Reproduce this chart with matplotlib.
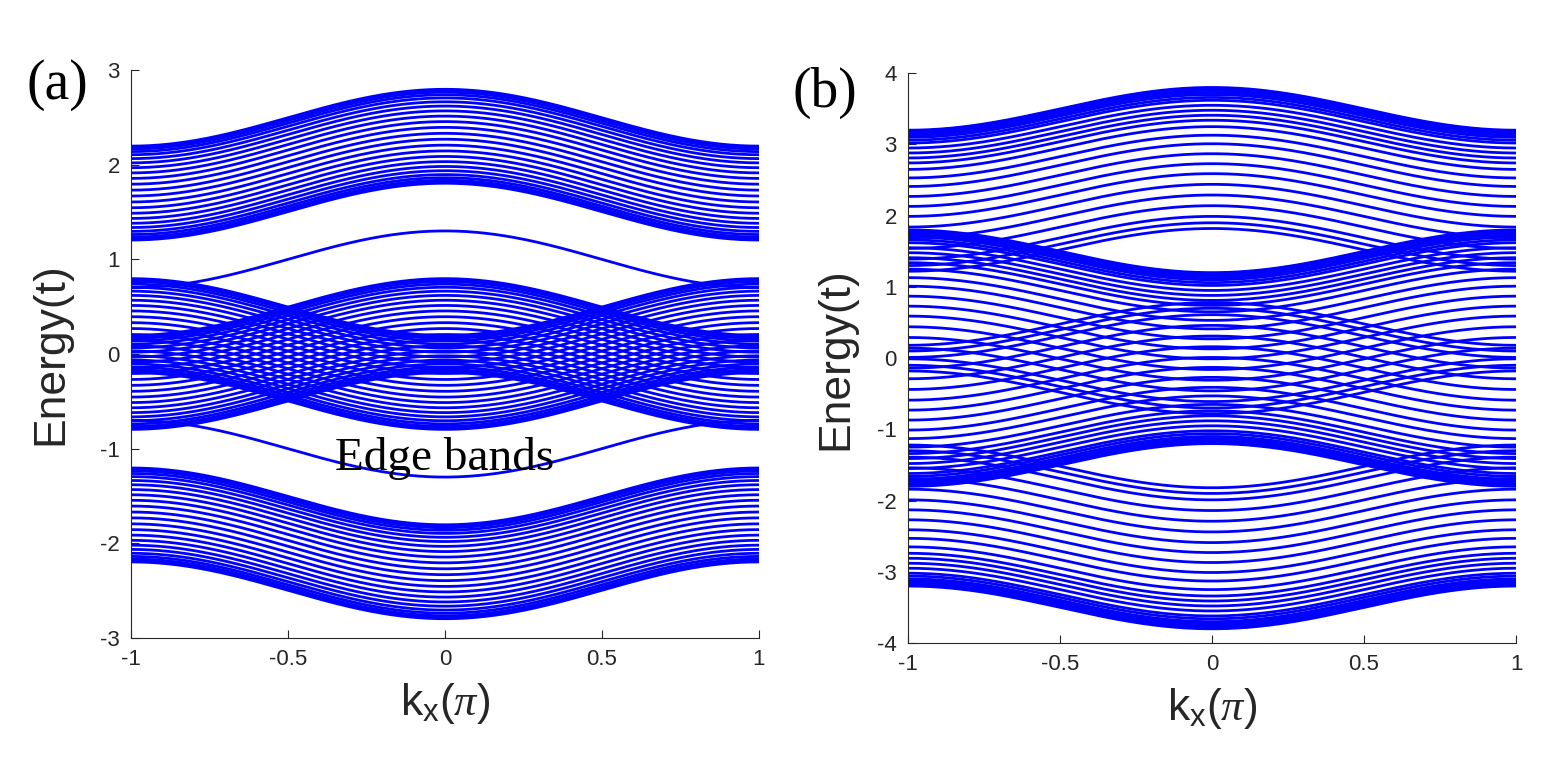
import matplotlib.pyplot as plt
import numpy as np

plt.rcParams['font.family'] = ['Liberation Sans', 'DejaVu Sans']
plt.rcParams['mathtext.fontset'] = 'custom'
plt.rcParams['mathtext.rm'] = 'Liberation Sans'
plt.rcParams['mathtext.it'] = 'Liberation Serif:italic'
plt.rcParams['axes.unicode_minus'] = False

# band centres (E at k=0 is centre + amp for "up" bands, centre - amp for "down" bands)
amp = 0.3

# panel (a)
a_upper = [2.496, 2.484, 2.465, 2.438, 2.405, 2.364, 2.319, 2.268, 2.213, 2.155, 2.094, 2.031,
           1.969, 1.906, 1.845, 1.787, 1.732, 1.681, 1.636, 1.595, 1.562, 1.535, 1.516, 1.504]
a_mid = [0.496, 0.484, 0.465, 0.438, 0.405, 0.364, 0.319, 0.268, 0.213, 0.155, 0.094, 0.031,
         -0.031, -0.094, -0.155, -0.213, -0.268, -0.319, -0.364, -0.405, -0.438, -0.465, -0.484, -0.496]
a_lower = [-1.504, -1.516, -1.535, -1.562, -1.595, -1.636, -1.681, -1.732, -1.787, -1.845, -1.906, -1.969,
           -2.031, -2.094, -2.155, -2.213, -2.268, -2.319, -2.364, -2.405, -2.438, -2.465, -2.484, -2.496]
a_edge_up = [1.0]
a_edge_down = [-1.0]

# panel (b)
b_upper = [3.50, 3.49, 3.48, 3.46, 3.43, 3.40, 3.36, 3.32, 3.25, 3.18, 3.11, 3.04,
           2.95, 2.83, 2.71, 2.57, 2.43, 2.29, 2.14, 1.99, 1.84, 1.69, 1.60, 1.52]
b_mid_down = [1.50, 1.49, 1.48, 1.46, 1.43, 1.40, 1.36, 1.32, 1.25, 1.18, 1.11, 1.04,
              0.95, 0.83, 0.71, 0.57, 0.43, 0.29, 0.14, -0.01, -0.16, -0.31, -0.40, -0.48]
b_mid_up = [-1.50, -1.49, -1.48, -1.46, -1.43, -1.40, -1.36, -1.32, -1.25, -1.18, -1.11, -1.04,
            -0.95, -0.83, -0.71, -0.57, -0.43, -0.29, -0.14, 0.01, 0.16, 0.31, 0.40, 0.48]
b_lower = [-3.50, -3.49, -3.48, -3.46, -3.43, -3.40, -3.36, -3.32, -3.25, -3.18, -3.11, -3.04,
           -2.95, -2.83, -2.71, -2.57, -2.43, -2.29, -2.14, -1.99, -1.84, -1.69, -1.60, -1.52]

xticks = [-1, -0.5, 0, 0.5, 1]
xticklabels = ['-1', '-0.5', '0', '0.5', '1']

k = np.linspace(-1, 1, 401)
blue = '#0000ff'
grey = '#262626'


def bands(ax, centres, sign):
    for c in centres:
        ax.plot(k, c + sign * amp * np.cos(np.pi * k), color=blue, lw=2.0)


def style(ax, ylim, ly):
    ax.set_xlim(-1, 1)
    ax.set_ylim(*ylim)
    ax.set_xticks(xticks)
    ax.set_xticklabels(xticklabels)
    ax.set_yticks(range(ylim[0], ylim[1] + 1))
    for s in ['top', 'right']:
        ax.spines[s].set_visible(False)
    for s in ['left', 'bottom']:
        ax.spines[s].set_color(grey)
        ax.spines[s].set_linewidth(0.8)
    ax.tick_params(direction='in', length=6, width=0.8, colors=grey, labelsize=16, pad=8)
    ax.set_xlabel(r'k$_{\mathrm{x}}$($\pi$)', fontsize=32, color=grey, labelpad=8)
    ax.set_ylabel('Energy(t)', fontsize=32, color=grey)
    ax.yaxis.set_label_coords(ly, 0.5)


fig = plt.figure(figsize=(15.5, 7.7), dpi=100)
ax1 = fig.add_axes([0.0845, 0.1714, 0.405, 0.7377])
ax2 = fig.add_axes([0.5858, 0.1649, 0.3923, 0.740])

bands(ax1, a_upper, 1)
bands(ax1, a_edge_up, 1)
bands(ax1, a_mid, 1)
bands(ax1, a_mid, -1)
bands(ax1, a_edge_down, -1)
bands(ax1, a_lower, -1)
style(ax1, (-3, 3), -0.095)
ax1.text(0, -1.1, 'Edge bands', family='Liberation Serif', fontsize=34, ha='center', va='center')

bands(ax2, b_upper, 1)
bands(ax2, b_mid_up, 1)
bands(ax2, b_mid_down, -1)
bands(ax2, b_lower, -1)
style(ax2, (-4, 4), -0.085)

fig.text(0.037, 0.89, '(a)', family='Liberation Serif', fontsize=40, ha='center', va='center')
fig.text(0.532, 0.88, '(b)', family='Liberation Serif', fontsize=40, ha='center', va='center')

fig.savefig('out.png', dpi=100)
